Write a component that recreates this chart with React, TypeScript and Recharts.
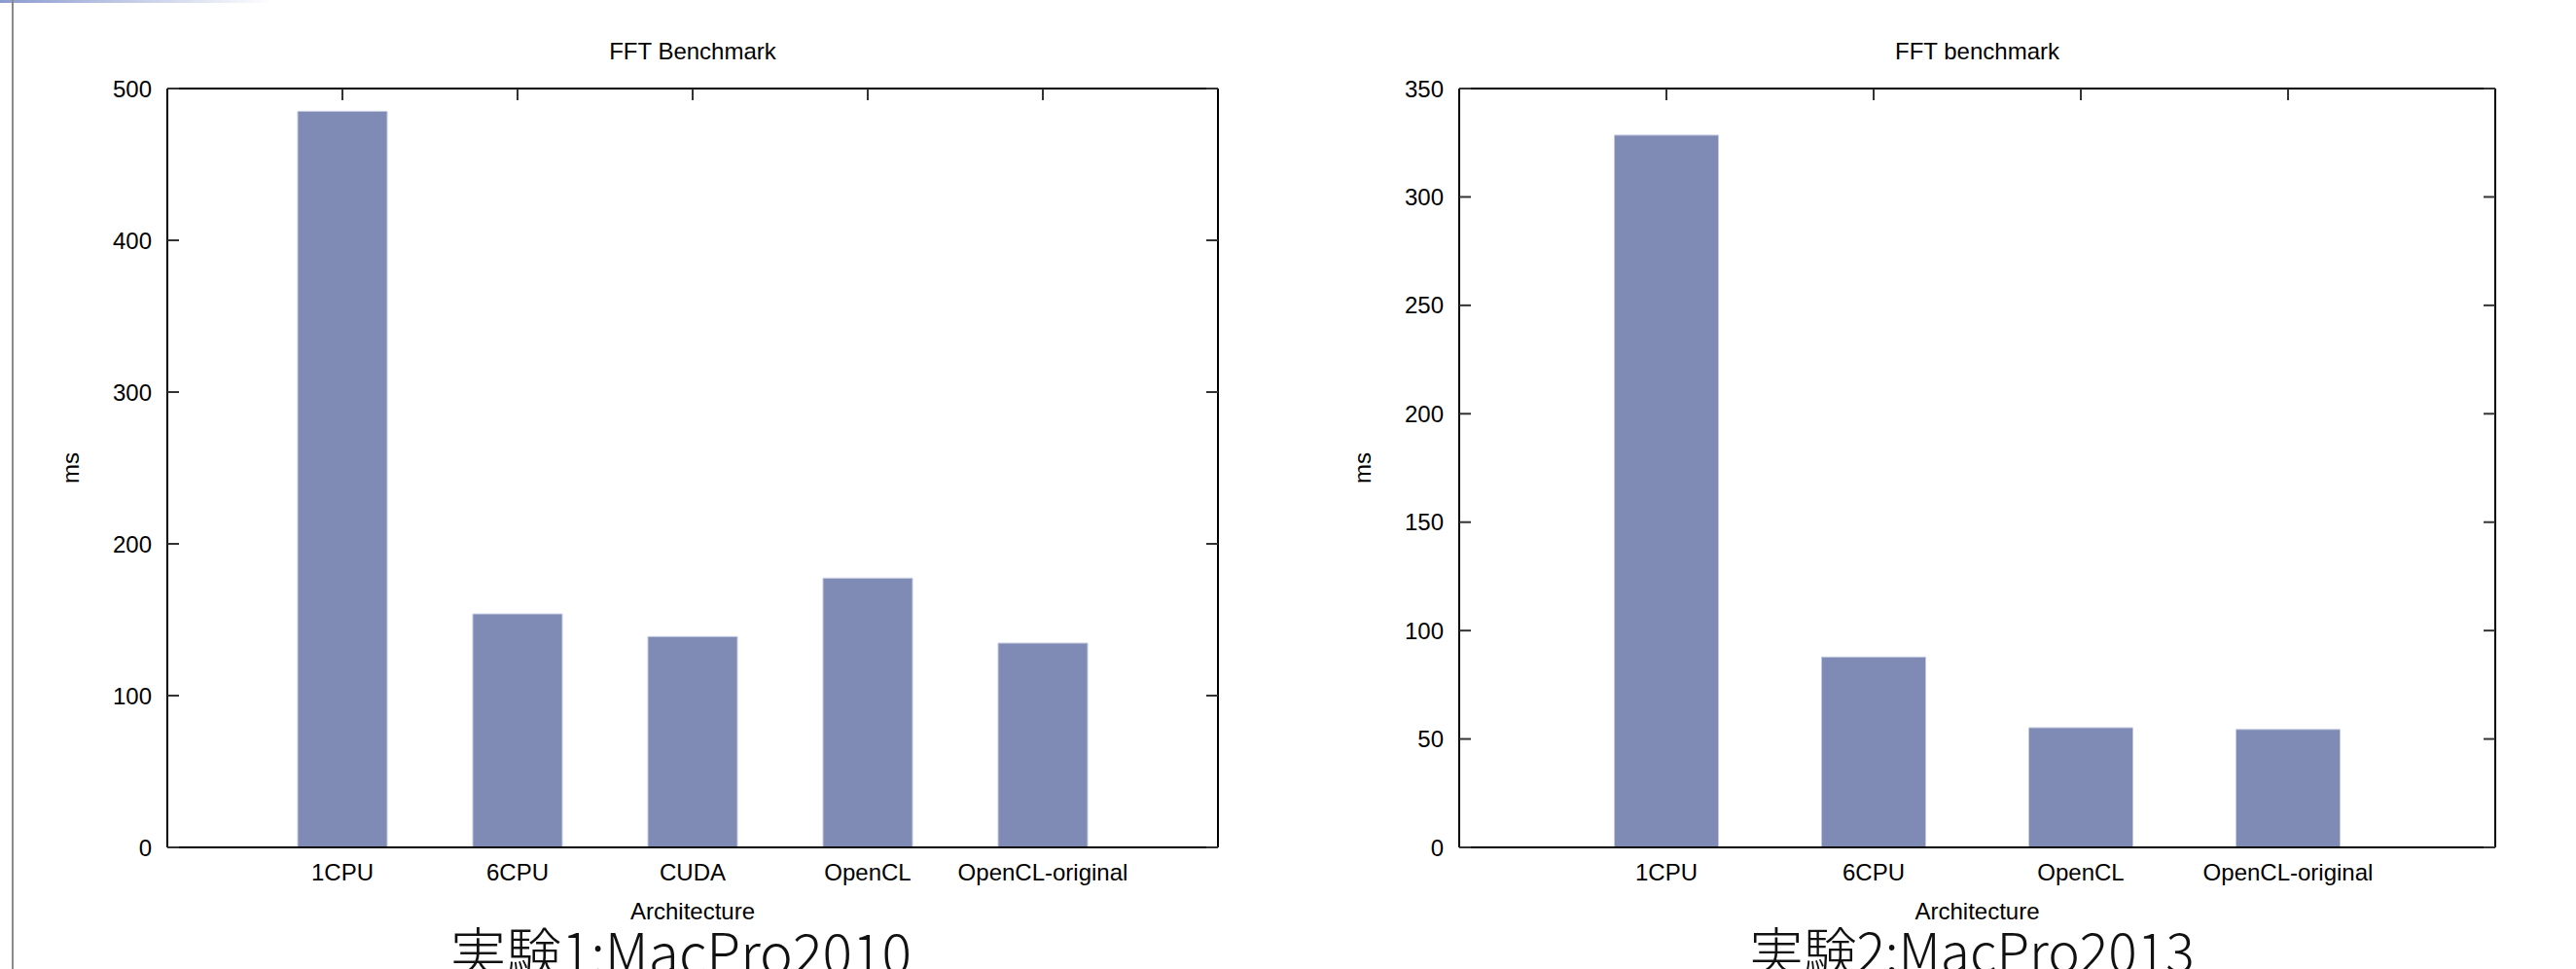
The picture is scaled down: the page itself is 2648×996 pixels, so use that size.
import React from "react";
import { Bar, BarChart, XAxis, YAxis } from "recharts";

// Experiment 1: MacPro 2010
const mac2010Names = ["1CPU", "6CPU", "CUDA", "OpenCL", "OpenCL-original"];
const mac2010Ms = [485, 153.8, 138.9, 177.4, 134.6];
const mac2010Ticks = [0, 100, 200, 300, 400, 500];

// Experiment 2: MacPro 2013
const mac2013Names = ["1CPU", "6CPU", "OpenCL", "OpenCL-original"];
const mac2013Ms = [328.5, 87.8, 55.2, 54.4];
const mac2013Ticks = [0, 50, 100, 150, 200, 250, 300, 350];

const FONT = '"Liberation Sans", Arial, Helvetica, sans-serif';
const BAR_FILL = "#7f8bb5";
const TEXT = { fill: "#000", fontSize: 24 };

interface PanelProps {
  title: string;
  names: string[];
  values: number[];
  ticks: number[];
  width: number;
  marginLeft: number;
  marginRight: number;
  pad: number;
  barSize: number;
}

function BenchPanel({ title, names, values, ticks, width, marginLeft, marginRight, pad, barSize }: PanelProps) {
  const data = names.map((name, i) => ({ name, ms: values[i] }));
  const max = ticks[ticks.length - 1];

  return (
    <BarChart
      width={width}
      height={996}
      data={data}
      margin={{ top: 90, right: marginRight, bottom: 45, left: marginLeft }}
      style={{ fontFamily: FONT }}
    >
      {/* mirrored top border with inward ticks + title */}
      <XAxis
        xAxisId="top"
        dataKey="name"
        orientation="top"
        height={1}
        padding={{ left: pad, right: pad }}
        stroke="#000"
        axisLine={{ strokeWidth: 2 }}
        tickLine={{ stroke: "#333", strokeWidth: 2 }}
        tickSize={-12}
        tickFormatter={() => ""}
        interval={0}
        label={{ value: title, position: "top", offset: 29, ...TEXT }}
      />
      <XAxis
        dataKey="name"
        height={80}
        padding={{ left: pad, right: pad }}
        stroke="#000"
        axisLine={{ strokeWidth: 2 }}
        tickLine={false}
        tickSize={0}
        tickMargin={17}
        interval={0}
        tick={TEXT}
        label={{ value: "Architecture", position: "insideBottom", offset: 6, ...TEXT }}
      />
      <YAxis
        type="number"
        width={100}
        domain={[0, max]}
        ticks={ticks}
        interval={0}
        stroke="#000"
        axisLine={{ strokeWidth: 2 }}
        tickLine={{ stroke: "#333", strokeWidth: 2 }}
        tickSize={-12}
        tickMargin={28}
        tick={TEXT}
        label={{
          value: "ms",
          angle: -90,
          position: "insideLeft",
          offset: 0,
          ...TEXT,
          style: { textAnchor: "middle" },
        }}
      />
      <YAxis
        yAxisId="right"
        type="number"
        orientation="right"
        width={10}
        domain={[0, max]}
        allowDataOverflow
        ticks={ticks}
        interval={0}
        stroke="#000"
        axisLine={{ strokeWidth: 2 }}
        tickLine={{ stroke: "#333", strokeWidth: 2 }}
        tickSize={-12}
        tickFormatter={() => ""}
      />
      <Bar
        dataKey="ms"
        fill={BAR_FILL}
        stroke="#c3c9df"
        strokeWidth={1}
        barSize={barSize}
        isAnimationActive={false}
      />
    </BarChart>
  );
}

const captionStyle = (center: number, size: number): React.CSSProperties => ({
  position: "absolute",
  left: center - 400,
  width: 800,
  top: 948,
  textAlign: "center",
  fontFamily: '"Noto Sans CJK JP", "Noto Sans", sans-serif',
  fontWeight: 300,
  fontSize: size,
  lineHeight: 1,
  color: "#111",
  whiteSpace: "nowrap",
});

export default function App() {
  return (
    <div
      style={{
        position: "absolute",
        left: 0,
        top: 0,
        width: 2648,
        height: 996,
        overflow: "hidden",
        background: "#fff",
        fontFamily: FONT,
      }}
    >
      {/* slide frame bits */}
      <div
        style={{
          position: "absolute",
          left: 0,
          top: 0,
          width: 280,
          height: 3,
          background: "linear-gradient(to right, #8b9bd0, rgba(255,255,255,0))",
        }}
      />
      <div style={{ position: "absolute", left: 12, top: 0, width: 2, height: 996, background: "#8a8a8a" }} />

      <div style={{ position: "absolute", left: 0, top: 0 }}>
        <BenchPanel
          title="FFT Benchmark"
          names={mac2010Names}
          values={mac2010Ms}
          ticks={mac2010Ticks}
          width={1320}
          marginLeft={72}
          marginRight={58}
          pad={90}
          barSize={92}
        />
      </div>
      <div style={{ position: "absolute", left: 1320, top: 0 }}>
        <BenchPanel
          title="FFT benchmark"
          names={mac2013Names}
          values={mac2013Ms}
          ticks={mac2013Ticks}
          width={1328}
          marginLeft={80}
          marginRight={73}
          pad={106.5}
          barSize={107}
        />
      </div>

      <div style={captionStyle(700, 57)}>実験1:MacPro2010</div>
      <div style={captionStyle(2027, 55)}>実験2:MacPro2013</div>
    </div>
  );
}
